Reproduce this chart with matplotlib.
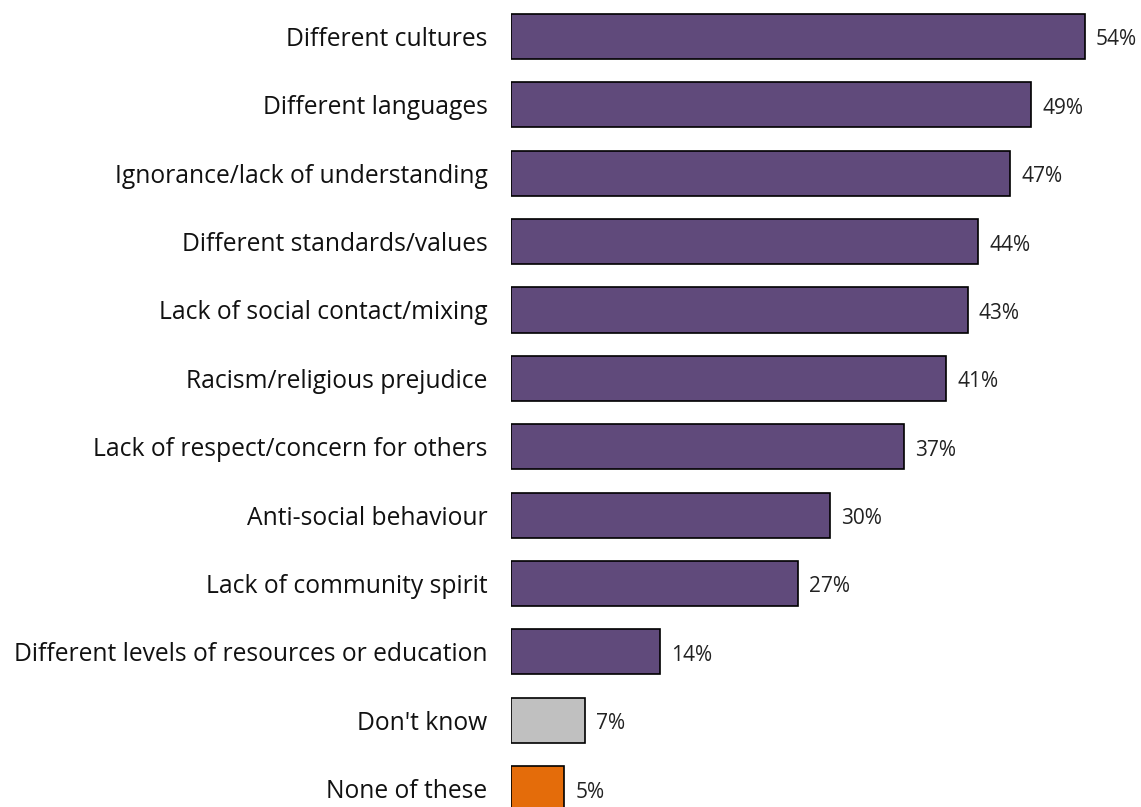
import matplotlib.pyplot as plt

categories = [
    'Different cultures',
    'Different languages',
    'Ignorance/lack of understanding',
    'Different standards/values',
    'Lack of social contact/mixing',
    'Racism/religious prejudice',
    'Lack of respect/concern for others',
    'Anti-social behaviour',
    'Lack of community spirit',
    'Different levels of resources or education',
    "Don't know",
    'None of these',
]
values = [54, 49, 47, 44, 43, 41, 37, 30, 27, 14, 7, 5]
colors = ['#604a7b'] * 10 + ['#c0c0c0', '#e46c0a']

plt.rcParams['font.family'] = ['Open Sans', 'DejaVu Sans']

fig = plt.figure(figsize=(11.41, 8.07), dpi=100)
ax = fig.add_axes([511 / 1141, 0, 616 / 1141, 1])

y = range(len(categories))
ax.barh(y, values, height=0.66, color=colors, edgecolor='black', linewidth=1.2)

# value labels sit a touch below the bar centre
for i, v in enumerate(values):
    ax.annotate(f'{v}%', (v, i), xytext=(8, -2.5), textcoords='offset points',
                va='center', ha='left', fontsize=15, color='#222222')

ax.set_xlim(0, 58)
ax.set_ylim(11.27, -0.534)
ax.set_yticks(list(y))
ax.set_yticklabels(categories, fontsize=17.7, color='#111111')
ax.tick_params(axis='y', length=0, pad=17)
ax.set_xticks([])
for s in ax.spines.values():
    s.set_visible(False)

fig.savefig('out.png', dpi=100)
